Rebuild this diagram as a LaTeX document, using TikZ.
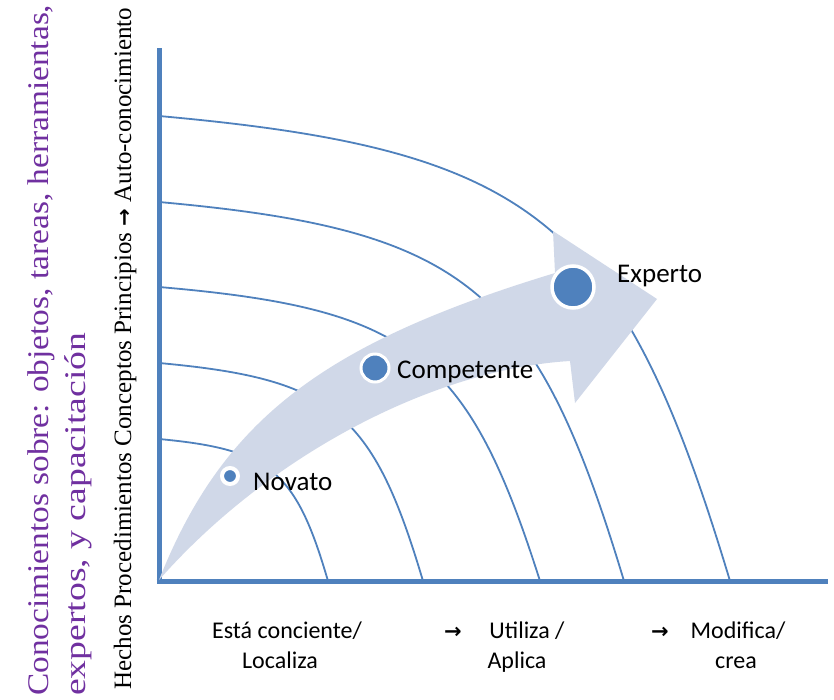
\documentclass[tikz,border=0pt]{standalone}
\usepackage{fontspec}
\usepackage{graphicx}
\setmainfont{Liberation Serif}
\newfontfamily\calfont{Carlito}
\newfontfamily\arrfont{DejaVu Sans}
\definecolor{axblue}{RGB}{79,129,189}
\definecolor{arrfill}{RGB}{208,216,232}
\definecolor{purp}{RGB}{112,48,160}
\tikzset{
  curve/.style={draw=axblue, line width=1.8pt},
  axisline/.style={draw=axblue, line width=5pt},
  dot/.style={circle, fill=axblue, draw=white, inner sep=0pt},
  lbl/.style={font=\calfont\fontsize{27}{32}\selectfont, inner sep=0pt, anchor=base west},
  bot/.style={font=\calfont\fontsize{24}{28}\selectfont, inner sep=0pt, anchor=base},
  botarrow/.style={font=\arrfont\bfseries\fontsize{21}{25}\selectfont, inner sep=0pt, anchor=base},
  side/.style={rotate=90, inner sep=0pt, anchor=base west}
}
\begin{document}
\begin{tikzpicture}[x=1pt,y=-1pt]
\useasboundingbox (0,0) rectangle (834,699);
\fill[white] (0,0) rectangle (834,699);
% level curves
\draw[curve] (159,116) .. controls (535.9,149.9) and (621.5,220.2) .. (730,581);
\draw[curve] (159,202) .. controls (465.9,229.7) and (535.6,286.9) .. (624,581);
\draw[curve] (159,287) .. controls (410.5,308.5) and (467.6,352.9) .. (540,581);
\draw[curve] (159,363) .. controls (333.2,378.9) and (372.8,411.8) .. (423,581);
\draw[curve] (159,439) .. controls (270.5,449.4) and (295.9,470.8) .. (328,581);
% axes
\coordinate (top) at (159,48);
\coordinate (orig) at (159,581);
\coordinate (right) at (828,581);
\draw[axisline] (top) -- ([yshift=-2.5pt]orig);
\draw[axisline] ([xshift=-2.5pt]orig) -- (right);
% big curved arrow
\fill[arrfill] (159,580) .. controls (222.4,420.6) and (321.4,343.9) .. (555,273)
  -- (553,231) -- (657,299) -- (575,403) -- (570,361)
  .. controls (431.7,369.3) and (267.3,456.9) .. (159,580) -- cycle;
% dots
\node[dot, minimum size=16pt, line width=4pt] (dn) at (230,476) {};
\node[dot, minimum size=28pt, line width=3pt] (dc) at (375,368) {};
\node[dot, minimum size=42pt, line width=3.5pt] (de) at (573,287) {};
% labels
\node[lbl] (novato) at (253,490) {Novato};
\node[lbl] (comp) at (397,378) {Competente};
\node[lbl] (exp) at (617,282) {Experto};
% bottom labels
\node[bot] (b1a) at (287,638) {Está conciente/};
\node[bot] (b1b) at (280,668) {Localiza};
\node[botarrow] (ar1) at (453,638) {→};
\node[bot] (b2a) at (527,638) {Utiliza /};
\node[bot] (b2b) at (517,668) {Aplica};
\node[botarrow] (ar2) at (660,638) {→};
\node[bot] (b3a) at (738,638) {Modifica/};
\node[bot] (b3b) at (736,668) {crea};
% side texts
\node[side, text=purp, font=\fontsize{30}{34}\selectfont] (p1) at (48,696)
  {\resizebox{691pt}{\height}{Conocimientos sobre: objetos, tareas, herramientas,}};
\node[side, text=purp, font=\fontsize{30}{34}\selectfont] (p2) at (85,696)
  {\resizebox{363pt}{\height}{expertos, y capacitación}};
\node[side, text=black, font=\fontsize{25}{28}\selectfont] (hp) at (131,690)
  {\resizebox{682pt}{\height}{Hechos Procedimientos Conceptos Principios {\arrfont\bfseries\fontsize{21}{25}\selectfont →} Auto-conocimiento}};
\end{tikzpicture}
\end{document}
